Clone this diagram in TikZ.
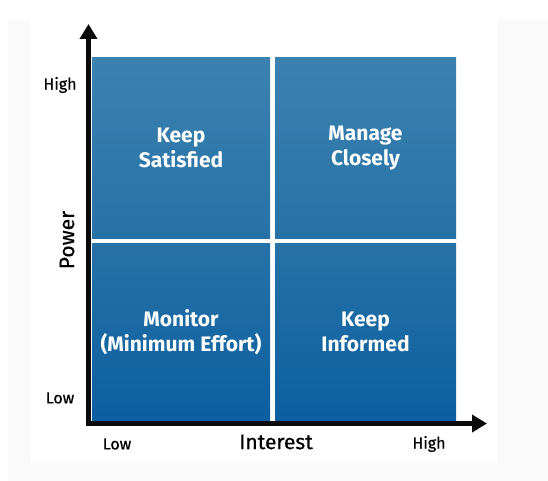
\documentclass[tikz,border=0pt]{standalone}
\usepackage{fontspec}
\setmainfont{Fira Sans}
\newfontfamily\medfont[FakeBold=0.6]{Fira Sans}
\usetikzlibrary{arrows.meta}
\definecolor{qtop}{RGB}{59,130,175}
\definecolor{qmid}{RGB}{38,114,167}
\definecolor{qbot}{RGB}{12,95,160}
\definecolor{bggrey}{RGB}{250,250,250}
\definecolor{axiscol}{RGB}{10,10,10}
\begin{document}
\begin{tikzpicture}[x=1pt,y=-1pt,
  quad/.style={rectangle, inner sep=0pt, outer sep=0pt, text=white,
    font=\bfseries\fontsize{21}{25}\selectfont, align=center, anchor=north west},
  topquad/.style={quad, top color=qtop, bottom color=qmid},
  botquad/.style={quad, top color=qmid, bottom color=qbot},
  axisline/.style={line width=5pt, draw=axiscol, -{Triangle[width=17pt,length=15pt]}},
  ticklbl/.style={text=black, font=\medfont\fontsize{16}{18}\selectfont},
  axislbl/.style={text=black, font=\medfont\fontsize{21}{24}\selectfont}]
\useasboundingbox (0,0) rectangle (548,481);
\fill[bggrey] (8,20) rectangle (548,481);
\fill[white] (30,0) rectangle (497,463);
% quadrants
\node[topquad, minimum width=178pt, minimum height=180pt] (ks) at (92,58) {Keep\\Satisfied};
\node[topquad, minimum width=181pt, minimum height=180pt] (mc) at (275,58) {Manage\\Closely};
\node[botquad, minimum width=178pt, minimum height=178pt] (mon) at (92,243) {Monitor\\(Minimum Effort)};
\node[botquad, minimum width=181pt, minimum height=178pt] (ki) at (275,243) {Keep\\Informed};
% axes
\coordinate (xstart) at (86,423.5);
\coordinate (xend) at (487,423.5);
\coordinate (ystart) at (88.5,426);
\coordinate (yend) at (88.5,24);
\draw[axisline] (xstart) -- (xend);
\draw[axisline] (ystart) -- (yend);
% labels
\node[ticklbl] (yhigh) at (60,85) {High};
\node[ticklbl] (ylow) at (60,398) {Low};
\node[ticklbl] (xlow) at (117,444) {Low};
\node[ticklbl] (xhigh) at (429,444) {High};
\node[axislbl] (xlbl) at (276,442) {Interest};
\node[axislbl, rotate=90] (ylbl) at (67,240) {Power};
\end{tikzpicture}
\end{document}
